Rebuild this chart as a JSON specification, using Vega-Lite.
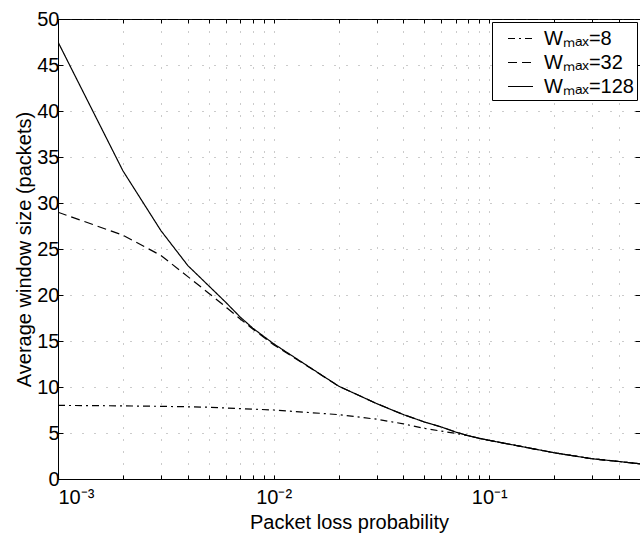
{
  "$schema": "https://vega.github.io/schema/vega-lite/v6.json",
  "width": 582,
  "height": 460,
  "autosize": "none",
  "padding": {"left": 58, "top": 19, "right": 0, "bottom": 57},
  "background": "white",
  "config": {
    "font": "Liberation Sans",
    "view": {"stroke": "black", "strokeWidth": 1},
    "axis": {
      "domainColor": "black",
      "tickColor": "black",
      "labelColor": "black",
      "titleColor": "black",
      "labelFont": "Liberation Sans",
      "titleFont": "Liberation Sans",
      "labelFontSize": 20,
      "titleFontSize": 20,
      "titleFontWeight": "normal",
      "gridColor": "#444444",
      "gridDash": [1, 11],
      "gridWidth": 1,
      "gridOpacity": 0.55
    }
  },
  "data": {
    "values": [
      {"p": 0.001, "w": 8.0, "s": "Wₘₐₓ=8"},
      {"p": 0.002, "w": 7.95, "s": "Wₘₐₓ=8"},
      {"p": 0.003, "w": 7.9, "s": "Wₘₐₓ=8"},
      {"p": 0.004, "w": 7.85, "s": "Wₘₐₓ=8"},
      {"p": 0.005, "w": 7.8, "s": "Wₘₐₓ=8"},
      {"p": 0.007, "w": 7.65, "s": "Wₘₐₓ=8"},
      {"p": 0.01, "w": 7.5, "s": "Wₘₐₓ=8"},
      {"p": 0.02, "w": 7.0, "s": "Wₘₐₓ=8"},
      {"p": 0.03, "w": 6.5, "s": "Wₘₐₓ=8"},
      {"p": 0.04, "w": 6.0, "s": "Wₘₐₓ=8"},
      {"p": 0.05, "w": 5.5, "s": "Wₘₐₓ=8"},
      {"p": 0.06, "w": 5.2, "s": "Wₘₐₓ=8"},
      {"p": 0.07, "w": 4.95, "s": "Wₘₐₓ=8"},
      {"p": 0.08, "w": 4.7, "s": "Wₘₐₓ=8"},
      {"p": 0.09, "w": 4.42, "s": "Wₘₐₓ=8"},
      {"p": 0.1, "w": 4.2, "s": "Wₘₐₓ=8"},
      {"p": 0.2, "w": 2.85, "s": "Wₘₐₓ=8"},
      {"p": 0.3, "w": 2.2, "s": "Wₘₐₓ=8"},
      {"p": 0.4, "w": 1.9, "s": "Wₘₐₓ=8"},
      {"p": 0.5, "w": 1.65, "s": "Wₘₐₓ=8"},
      {"p": 0.001, "w": 29.0, "s": "Wₘₐₓ=32"},
      {"p": 0.002, "w": 26.5, "s": "Wₘₐₓ=32"},
      {"p": 0.003, "w": 24.3, "s": "Wₘₐₓ=32"},
      {"p": 0.004, "w": 22.0, "s": "Wₘₐₓ=32"},
      {"p": 0.005, "w": 20.2, "s": "Wₘₐₓ=32"},
      {"p": 0.006, "w": 18.7, "s": "Wₘₐₓ=32"},
      {"p": 0.007, "w": 17.4, "s": "Wₘₐₓ=32"},
      {"p": 0.008, "w": 16.3, "s": "Wₘₐₓ=32"},
      {"p": 0.009, "w": 15.4, "s": "Wₘₐₓ=32"},
      {"p": 0.01, "w": 14.6, "s": "Wₘₐₓ=32"},
      {"p": 0.02, "w": 10.1, "s": "Wₘₐₓ=32"},
      {"p": 0.03, "w": 8.2, "s": "Wₘₐₓ=32"},
      {"p": 0.04, "w": 7.0, "s": "Wₘₐₓ=32"},
      {"p": 0.05, "w": 6.2, "s": "Wₘₐₓ=32"},
      {"p": 0.06, "w": 5.65, "s": "Wₘₐₓ=32"},
      {"p": 0.07, "w": 5.1, "s": "Wₘₐₓ=32"},
      {"p": 0.08, "w": 4.7, "s": "Wₘₐₓ=32"},
      {"p": 0.09, "w": 4.42, "s": "Wₘₐₓ=32"},
      {"p": 0.1, "w": 4.2, "s": "Wₘₐₓ=32"},
      {"p": 0.2, "w": 2.85, "s": "Wₘₐₓ=32"},
      {"p": 0.3, "w": 2.2, "s": "Wₘₐₓ=32"},
      {"p": 0.4, "w": 1.9, "s": "Wₘₐₓ=32"},
      {"p": 0.5, "w": 1.65, "s": "Wₘₐₓ=32"},
      {"p": 0.001, "w": 47.5, "s": "Wₘₐₓ=128"},
      {"p": 0.002, "w": 33.5, "s": "Wₘₐₓ=128"},
      {"p": 0.003, "w": 27.0, "s": "Wₘₐₓ=128"},
      {"p": 0.004, "w": 23.2, "s": "Wₘₐₓ=128"},
      {"p": 0.005, "w": 21.0, "s": "Wₘₐₓ=128"},
      {"p": 0.006, "w": 19.2, "s": "Wₘₐₓ=128"},
      {"p": 0.007, "w": 17.6, "s": "Wₘₐₓ=128"},
      {"p": 0.008, "w": 16.4, "s": "Wₘₐₓ=128"},
      {"p": 0.009, "w": 15.5, "s": "Wₘₐₓ=128"},
      {"p": 0.01, "w": 14.7, "s": "Wₘₐₓ=128"},
      {"p": 0.02, "w": 10.1, "s": "Wₘₐₓ=128"},
      {"p": 0.03, "w": 8.2, "s": "Wₘₐₓ=128"},
      {"p": 0.04, "w": 7.0, "s": "Wₘₐₓ=128"},
      {"p": 0.05, "w": 6.2, "s": "Wₘₐₓ=128"},
      {"p": 0.06, "w": 5.65, "s": "Wₘₐₓ=128"},
      {"p": 0.07, "w": 5.1, "s": "Wₘₐₓ=128"},
      {"p": 0.08, "w": 4.7, "s": "Wₘₐₓ=128"},
      {"p": 0.09, "w": 4.42, "s": "Wₘₐₓ=128"},
      {"p": 0.1, "w": 4.2, "s": "Wₘₐₓ=128"},
      {"p": 0.2, "w": 2.85, "s": "Wₘₐₓ=128"},
      {"p": 0.3, "w": 2.2, "s": "Wₘₐₓ=128"},
      {"p": 0.4, "w": 1.9, "s": "Wₘₐₓ=128"},
      {"p": 0.5, "w": 1.65, "s": "Wₘₐₓ=128"}
    ]
  },
  "layer": [
    {
      "mark": {"type": "line", "color": "black", "strokeWidth": 1.2, "clip": true},
      "encoding": {
        "x": {
          "field": "p", "type": "quantitative",
          "scale": {"type": "log", "domain": [0.001, 0.5], "nice": false},
          "axis": {
            "title": "Packet loss probability",
            "titlePadding": 5,
            "values": [0.001,0.002,0.003,0.004,0.005,0.006,0.007,0.008,0.009,0.01,0.02,0.03,0.04,0.05,0.06,0.07,0.08,0.09,0.1,0.2,0.3,0.4,0.5],
            "labelExpr": "datum.value === 0.001 ? '10⁻³' : datum.value === 0.01 ? '10⁻²' : datum.value === 0.1 ? '10⁻¹' : ''",
            "tickSize": -4,
            "labelPadding": 12,
            "grid": true,
            "domain": true
          }
        },
        "y": {
          "field": "w", "type": "quantitative",
          "scale": {"domain": [0, 50], "nice": false},
          "axis": {
            "title": "Average window size (packets)",
            "titlePadding": 2,
            "values": [0,5,10,15,20,25,30,35,40,45,50],
            "tickSize": -5,
            "labelPadding": 4,
            "grid": true
          }
        },
        "strokeDash": {
          "field": "s", "type": "nominal",
          "scale": {
            "domain": ["Wₘₐₓ=8", "Wₘₐₓ=32", "Wₘₐₓ=128"],
            "range": [[7, 4, 2, 4], [9, 5], [1, 0]]
          },
          "legend": {
            "title": null,
            "orient": "top-right",
            "offset": 3,
            "strokeColor": "black",
            "fillColor": "white",
            "padding": 3,
            "labelFontSize": 20,
            "labelFont": "Liberation Sans",
            "labelColor": "black",
            "labelOffset": 10,
            "symbolType": "stroke",
            "symbolStrokeColor": "black",
            "symbolStrokeWidth": 1.2,
            "symbolSize": 625,
            "symbolOffset": 12,
            "rowPadding": 0
          }
        }
      }
    },
    {
      "mark": {"type": "line", "opacity": 0},
      "encoding": {
        "x": {
          "field": "p", "type": "quantitative",
          "axis": {
            "orient": "top", "title": null, "labels": false, "grid": false, "domain": false,
            "values": [0.001,0.002,0.003,0.004,0.005,0.006,0.007,0.008,0.009,0.01,0.02,0.03,0.04,0.05,0.06,0.07,0.08,0.09,0.1,0.2,0.3,0.4,0.5],
            "tickSize": -4
          }
        },
        "y": {
          "field": "w", "type": "quantitative",
          "axis": {
            "orient": "right", "title": null, "labels": false, "grid": false, "domain": false,
            "values": [0,5,10,15,20,25,30,35,40,45,50],
            "tickSize": -5
          }
        },
        "detail": {"field": "s"}
      }
    }
  ],
  "resolve": {"axis": {"x": "independent", "y": "independent"}}
}
